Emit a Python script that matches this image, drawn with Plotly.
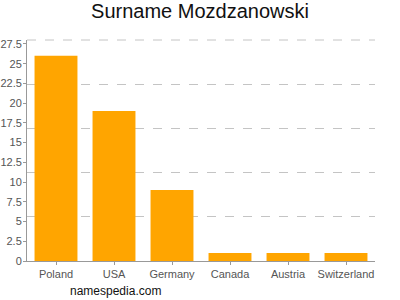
import plotly.graph_objects as go

categories = ["Poland", "USA", "Germany", "Canada", "Austria", "Switzerland"]
values = [26, 19, 9, 1, 1, 1]
y_ticks = [0, 2.5, 5, 7.5, 10, 12.5, 15, 17.5, 20, 22.5, 25, 27.5]
y_tick_text = ["0", "2.5", "5", "7.5", "10", "12.5", "15", "17.5", "20", "22.5", "25", "27.5"]
grid_vals = [5.6, 11.2, 16.8, 22.4]
y_max = 28

fig = go.Figure()
fig.add_trace(go.Bar(x=categories, y=values, marker_color="#FFA500",
                     marker_line_width=0, width=0.74))
fig.add_trace(go.Scatter(x=categories, y=[None]*len(categories), yaxis="y2",
                         showlegend=False, hoverinfo="skip"))

fig.update_layout(
    width=400, height=300,
    margin=dict(l=27, r=25, t=40, b=39, autoexpand=False),
    paper_bgcolor="white", plot_bgcolor="white",
    showlegend=False,
    font=dict(family="Liberation Sans, Arial, sans-serif", color="#555555", size=11),
    title=dict(text="Surname Mozdzanowski", x=0.5, xanchor="center",
               yref="container", y=0.962, yanchor="middle",
               font=dict(size=20, color="#111111")),
    xaxis=dict(showline=True, linecolor="#999999", linewidth=1, ticks="outside",
               ticklen=3, tickcolor="#999999", showgrid=False, automargin=False,
               tickfont=dict(size=11, color="#555555")),
    yaxis=dict(range=[0, y_max], tickvals=y_ticks, ticktext=y_tick_text,
               showline=True, linecolor="#999999", linewidth=1,
               ticks="outside", ticklen=3, tickcolor="#999999",
               ticklabelstandoff=-1,
               showgrid=False, zeroline=False, automargin=False,
               tickfont=dict(size=11, color="#555555")),
    yaxis2=dict(range=[0, y_max], overlaying="y", tickvals=grid_vals,
                showticklabels=False, showgrid=True, gridcolor="#c4c4c4",
                griddash="dash", gridwidth=1, zeroline=False, showline=False,
                automargin=False),
    shapes=[dict(type="line", xref="paper", yref="paper", x0=0, x1=1, y0=1, y1=1,
                 line=dict(color="#c4c4c4", width=1, dash="dash"), layer="below")],
    annotations=[dict(text="namespedia.com", xref="paper", yref="paper",
                      x=(68-27)/348, y=0, xanchor="left", yanchor="middle",
                      yshift=-30, showarrow=False,
                      font=dict(size=12, color="#111111"))],
)

fig.write_html("out.html", config={"displayModeBar": False},
               post_script="document.body.style.margin='0';document.body.style.padding='0';")
